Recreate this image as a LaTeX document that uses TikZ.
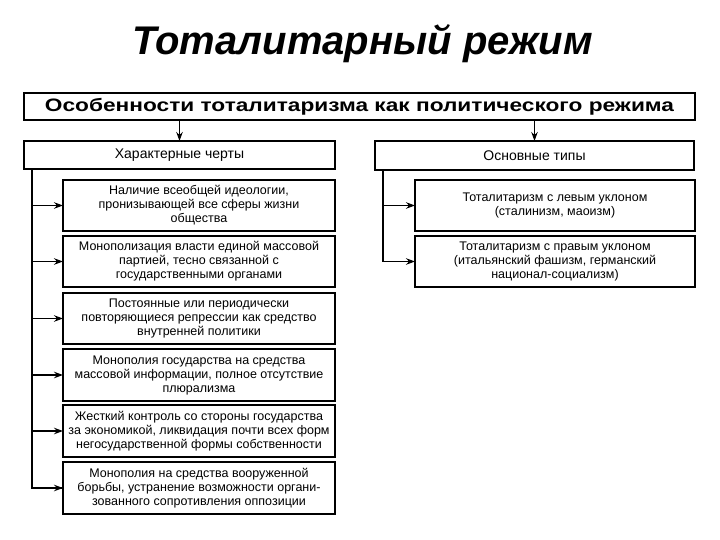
\documentclass[tikz,border=0pt]{standalone}
\usepackage{fontspec}
\setmainfont{Liberation Sans}
\newfontfamily\titlefont{Liberation Sans}
\usetikzlibrary{arrows.meta}
\tikzset{
  box/.style={draw, line width=1.5pt, fill=white, inner sep=0pt, outer sep=0pt, anchor=north west, align=center,
    font=\fontsize{12.5}{14}\selectfont},
  line/.style={line width=1.2pt},
  arr/.style={line width=1.2pt, -{Stealth[length=9pt,width=6.5pt]}},
}
\begin{document}
\begin{tikzpicture}[x=1pt,y=-1pt]
\useasboundingbox (0,0) rectangle (720,540);
\node[anchor=base, font=\titlefont\fontsize{40}{44}\selectfont\bfseries\itshape] (title) at (362.5,55) {Тоталитарный режим};
\node[box, minimum width=671pt, minimum height=27pt, font=\fontsize{18}{20}\selectfont\bfseries] (top) at (24,93) {\scalebox{1.26}[1]{Особенности тоталитаризма как политического режима}};
\node[box, minimum width=311pt, minimum height=28pt, font=\fontsize{14}{16}\selectfont] (ch) at (24,141) {Характерные черты};
\node[box, minimum width=319pt, minimum height=29pt, font=\fontsize{14}{16}\selectfont] (ty) at (375,141) {Основные типы};
\node[box, minimum width=272pt, minimum height=51pt] (f1) at (63,180) {Наличие всеобщей идеологии,\\пронизывающей все сферы жизни\\общества};
\node[box, minimum width=272pt, minimum height=51pt] (f2) at (63,236) {Монополизация власти единой массовой\\партией, тесно связанной с\\государственными органами};
\node[box, minimum width=272pt, minimum height=51pt] (f3) at (63,293) {Постоянные или периодически\\повторяющиеся репрессии как средство\\внутренней политики};
\node[box, minimum width=272pt, minimum height=52pt] (f4) at (63,349) {Монополия государства на средства\\массовой информации, полное отсутствие\\плюрализма};
\node[box, minimum width=272pt, minimum height=52pt] (f5) at (63,405) {Жесткий контроль со стороны государства\\за экономикой, ликвидация почти всех форм\\негосударственной формы собственности};
\node[box, minimum width=272pt, minimum height=52pt] (f6) at (63,462) {Монополия на средства вооруженной\\борьбы, устранение возможности органи-\\зованного сопротивления оппозиции};
\node[box, minimum width=280pt, minimum height=51pt] (t1) at (415,180) {Тоталитаризм с левым уклоном\\(сталинизм, маоизм)};
\node[box, minimum width=280pt, minimum height=51pt] (t2) at (415,236) {Тоталитаризм с правым уклоном\\(итальянский фашизм, германский\\национал-социализм)};
% top arrows
\draw[arr] (ch.north |- top.south) -- (ch.north);
\draw[arr] (ty.north |- top.south) -- (ty.north);
% left trunk
\coordinate (lv) at ([xshift=8pt]ch.south west);
\draw[line] (lv) |- (f6.west);
\foreach \f in {f1,f2,f3,f4,f5,f6} \draw[arr] (lv |- \f.west) -- (\f.west);
% right trunk
\coordinate (rv) at ([xshift=8pt]ty.south west);
\draw[line] (rv) |- (t2.west);
\foreach \f in {t1,t2} \draw[arr] (rv |- \f.west) -- (\f.west);
\end{tikzpicture}
\end{document}
